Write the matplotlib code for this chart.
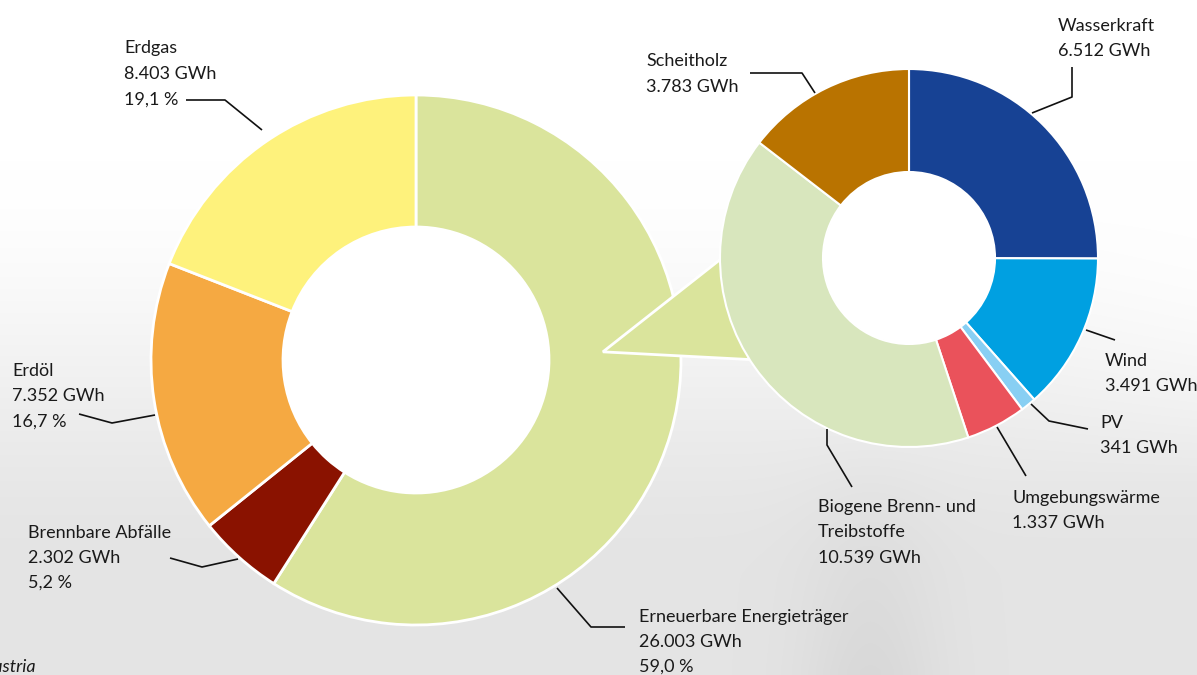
import numpy as np
import matplotlib
matplotlib.use("Agg")
import matplotlib.pyplot as plt
from matplotlib import font_manager
from matplotlib.patches import Polygon

# ---------------- data ----------------
main_labels = ["Erneuerbare Energieträger", "Brennbare Abfälle", "Erdöl", "Erdgas"]
main_values = [26003, 2302, 7352, 8403]
main_pct = ["59,0 %", "5,2 %", "16,7 %", "19,1 %"]
main_colors = ["#dae49c", "#8a1200", "#f5a942", "#fef27c"]

sub_labels = ["Wasserkraft", "Wind", "PV", "Umgebungswärme",
              "Biogene Brenn- und\nTreibstoffe", "Scheitholz"]
sub_values = [6512, 3491, 341, 1337, 10539, 3783]
sub_colors = ["#174294", "#00a0e1", "#88cff3", "#ea525b", "#d8e6bd", "#b97300"]

def fmt(v):
    return f"{v:,}".replace(",", ".") + " GWh"

# ---------------- font ----------------
names = {f.name for f in font_manager.fontManager.ttflist}
FONT = "Liberation Sans Narrow" if "Liberation Sans Narrow" in names else "Lato"
FS = 14.0 if FONT == "Liberation Sans Narrow" else 13.0
TXT = "#1a1a1a"

W, H = 1197, 675
fig = plt.figure(figsize=(W / 100, H / 100), dpi=100)

# background gradient
bg = fig.add_axes([0, 0, 1, 1], zorder=0)
yy, xx = np.mgrid[0:H, 0:W]
t = np.clip((yy - 160) / 420.0, 0, 1)
t = t * t * (3 - 2 * t)
xfac = 1.0 - 0.6 * np.clip((xx - 950) / 250.0, 0, 1) * np.clip((480 - yy) / 220.0, 0, 1)
band = 0.045 * np.exp(-((xx - 870) / 70.0) ** 2) * np.clip((yy - 420) / 250.0, 0, 1)
gray = 1.0 - 0.105 * t * xfac - band
bg.imshow(np.dstack([gray, gray, gray]), extent=[0, W, H, 0], aspect="auto",
          interpolation="bilinear")
bg.set_axis_off()

ax = fig.add_axes([0, 0, 1, 1], zorder=1)
ax.patch.set_alpha(0)

def Y(y):
    return H - y

# big donut
c1 = (416, Y(360)); R1, r1 = 265, 133
ax.add_patch(plt.Circle(c1, r1, color="white", zorder=0.5))
ax.pie(main_values, radius=R1, center=c1, startangle=90, counterclock=False,
       colors=main_colors,
       wedgeprops=dict(width=R1 - r1, edgecolor="white", linewidth=2))

# small donut
c2 = (909, Y(258)); R2, r2 = 189, 86

# connecting triangle
apex = (c1[0] + 0.706 * R1 * np.cos(np.radians(2.5)), c1[1] + 0.706 * R1 * np.sin(np.radians(2.5)))
p_up = (c2[0] + R2 * np.cos(np.radians(180.5)), c2[1] + R2 * np.sin(np.radians(180.5)))
p_lo = (c2[0] + R2 * np.cos(np.radians(212.5)), c2[1] + R2 * np.sin(np.radians(212.5)))
ax.add_patch(Polygon([apex, p_up, p_lo], closed=True, facecolor=main_colors[0],
                     edgecolor="white", linewidth=2, zorder=3))

wedges, _ = ax.pie(sub_values, radius=R2, center=c2, startangle=90, counterclock=False,
                   colors=sub_colors,
                   wedgeprops=dict(width=R2 - r2, edgecolor="white", linewidth=1.5))
for w in wedges:
    w.set_zorder(4)
ax.add_patch(plt.Circle(c2, r2, color="white", zorder=3.5))

ax.set_xlim(0, W)
ax.set_ylim(0, H)
ax.set_aspect("auto")
ax.set_axis_off()

def label(x, baselines, lines, **kw):
    for b, s in zip(baselines, lines):
        ax.text(x, Y(b), s, fontsize=FS, family=FONT, color=TXT, va="baseline",
                ha="left", zorder=6, **kw)

def leader(pts):
    xs = [p[0] for p in pts]
    ys = [Y(p[1]) for p in pts]
    ax.plot(xs, ys, color="#111111", lw=1.2, zorder=6, solid_capstyle="butt")

# main labels
label(639, [622, 647, 672], [main_labels[0], fmt(main_values[0]), main_pct[0]])
leader([(557, 588), (591, 627), (625, 627)])
label(28, [538, 563, 588], [main_labels[1], fmt(main_values[1]), main_pct[1]])
leader([(170, 558), (202, 567), (238, 559)])
label(12, [376, 401, 427], [main_labels[2], fmt(main_values[2]), main_pct[2]])
leader([(79, 414), (112, 423), (155, 415)])
label(124, [53, 79, 105], [main_labels[3], fmt(main_values[3]), main_pct[3]])
leader([(186, 100), (225, 100), (262, 130)])

# sub labels
label(1058, [31, 56], [sub_labels[0], fmt(sub_values[0])])
leader([(1072, 67), (1072, 97), (1032, 113)])
label(1105, [366, 391], [sub_labels[1], fmt(sub_values[1])])
leader([(1086, 330), (1115, 340)])
label(1100, [428, 453], [sub_labels[2], fmt(sub_values[2])])
leader([(1031, 404), (1049, 421), (1088, 429)])
label(1012, [503, 528], [sub_labels[3], fmt(sub_values[3])])
leader([(997, 427), (1026, 476)])
label(818, [512, 537, 563], sub_labels[4].split("\n") + [fmt(sub_values[4])])
leader([(827, 429), (827, 445), (852, 487)])
label(646, [66, 92], [sub_labels[5], fmt(sub_values[5])])
leader([(750, 73), (802, 73), (815, 93)])

# source (cropped at the left edge as in the original)
ax.text(36, Y(672), "Quelle: Statistik Austria", fontsize=FS, family=FONT,
        style="italic", color=TXT, ha="right", va="baseline", zorder=6)

fig.savefig("out.png", dpi=100)
